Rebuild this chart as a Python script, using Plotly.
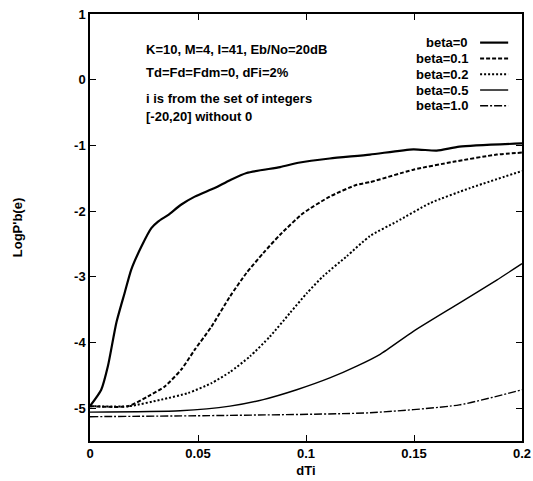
import plotly.graph_objects as go

# ---- data ----
x_b0 = [0.0, 0.0052, 0.0083, 0.0122, 0.016, 0.0191, 0.0238, 0.0284, 0.0315, 0.0361,
        0.0423, 0.0485, 0.0577, 0.0648, 0.0725, 0.088, 0.0972, 0.111, 0.1296, 0.1497,
        0.1605, 0.171, 0.2]
y_b0 = [-4.97, -4.72, -4.36, -3.70, -3.25, -2.89, -2.54, -2.26, -2.16, -2.06,
        -1.90, -1.78, -1.65, -1.53, -1.42, -1.33, -1.26, -1.20, -1.14, -1.06,
        -1.08, -1.02, -0.97]

x_b01 = [0.0, 0.0176, 0.0269, 0.0346, 0.0423, 0.0485, 0.0562, 0.0648, 0.0725, 0.0802,
         0.088, 0.0988, 0.111, 0.1235, 0.1296, 0.1497, 0.1682, 0.1883, 0.2]
y_b01 = [-4.97, -4.97, -4.82, -4.67, -4.41, -4.11, -3.76, -3.30, -2.94, -2.64,
         -2.36, -2.03, -1.78, -1.60, -1.56, -1.37, -1.25, -1.14, -1.11]

x_b02 = [0.0, 0.018, 0.033, 0.0454, 0.0562, 0.0648, 0.0741, 0.0833, 0.0926, 0.1004,
         0.108, 0.1188, 0.1296, 0.142, 0.1574, 0.1759, 0.2]
y_b02 = [-4.97, -4.97, -4.87, -4.77, -4.62, -4.45, -4.21, -3.91, -3.55, -3.25,
         -2.99, -2.69, -2.38, -2.16, -1.88, -1.65, -1.39]

x_b05 = [0.0, 0.0417, 0.0648, 0.0802, 0.0957, 0.111, 0.1235, 0.1343, 0.1497, 0.171,
         0.1883, 0.2]
y_b05 = [-5.06, -5.04, -4.97, -4.87, -4.72, -4.54, -4.36, -4.18, -3.83, -3.40,
         -3.05, -2.80]

x_b10 = [0.0, 0.0648, 0.1296, 0.171, 0.2]
y_b10 = [-5.13, -5.11, -5.07, -4.95, -4.72]

series_names = ["beta=0", "beta=0.1", "beta=0.2", "beta=0.5", "beta=1.0"]
x_ticks = [0, 0.05, 0.1, 0.15, 0.2]
x_tick_labels = ["0", "0.05", "0.1", "0.15", "0.2"]
y_ticks = [1, 0, -1, -2, -3, -4, -5]
y_tick_labels = ["1", "0", "-1", "-2", "-3", "-4", "-5"]
info_lines = ["K=10, M=4, I=41, Eb/No=20dB", "Td=Fd=Fdm=0, dFi=2%",
              "i is from the set of integers", "[-20,20] without 0"]

styles = [dict(width=2.2, dash="solid"), dict(width=2.0, dash="4px,2px"),
          dict(width=2.0, dash="2px,2px"), dict(width=1.4, dash="solid"),
          dict(width=1.4, dash="8px,2px,2px,2px")]

FONT = "Liberation Sans, Arial, sans-serif"
TXT = dict(family=FONT, size=13, color="black", weight="bold")

fig = go.Figure()
xs = [x_b0, x_b01, x_b02, x_b05, x_b10]
ys = [y_b0, y_b01, y_b02, y_b05, y_b10]
for name, xv, yv, st in zip(series_names, xs, ys, styles):
    fig.add_trace(go.Scatter(x=xv, y=yv, mode="lines", name=name,
                             line=dict(color="black", shape="spline", smoothing=0.6, **st),
                             showlegend=False))

# custom legend (text right-aligned, sample on the right, gnuplot style)
leg_y0 = 0.933
leg_dy = 0.037
for i, (name, st) in enumerate(zip(series_names, styles)):
    yy = leg_y0 - i * leg_dy
    fig.add_annotation(x=0.88, y=yy, xref="paper", yref="paper", text=name,
                       showarrow=False, xanchor="right", yanchor="middle", font=TXT)
    fig.add_shape(type="line", xref="paper", yref="paper", x0=0.903, x1=0.968,
                  y0=yy, y1=yy, line=dict(color="black", **st))

info_y = [0.916, 0.862, 0.801, 0.759]
for t, yy in zip(info_lines, info_y):
    fig.add_annotation(x=0.125, y=yy, xref="paper", yref="paper", text=t,
                       showarrow=False, xanchor="left", yanchor="middle", font=TXT)

axis_common = dict(showgrid=False, zeroline=False, showline=True, linecolor="black",
                   linewidth=1.5, mirror="ticks", ticks="inside", ticklen=6,
                   tickcolor="black", tickwidth=1.3, automargin=False,
                   tickfont=TXT)

fig.update_layout(
    width=533, height=481,
    margin=dict(l=90, r=11, t=14, b=40),
    paper_bgcolor="white", plot_bgcolor="white",
    xaxis=dict(range=[0, 0.2], tickvals=x_ticks, ticktext=x_tick_labels,
               title=dict(text="dTi", font=TXT, standoff=6), **axis_common),
    yaxis=dict(range=[-5.5, 1], tickvals=y_ticks, ticktext=y_tick_labels,
               title=dict(text="LogP'b(e)", font=TXT, standoff=49), **axis_common),
)

fig.write_html("out.html")
